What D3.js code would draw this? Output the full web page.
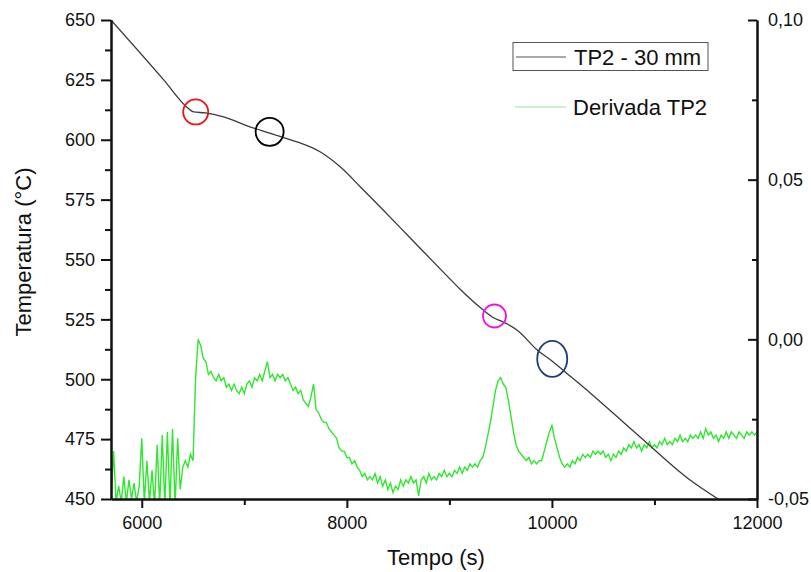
<!DOCTYPE html>
<meta charset="utf-8">
<script src="https://cdn.jsdelivr.net/npm/d3@7"></script>
<style>
body { margin: 0; background: #fff; }
text { font-family: "Liberation Sans", Arial, sans-serif; fill: #111; }
.axis path, .axis line { stroke: #111; stroke-width: 2px; }
.axis text { font-size: 18px; }
</style>
<body>
<script>

// temperature curve TP2 - 30 mm  [tempo (s), temperatura (°C)]
var tempTime = [5700, 6214, 6448, 6506, 6623, 6799, 7062, 7247, 7451, 7549, 7743, 7938, 8133,
  8328, 8523, 8717, 8912, 9107, 9331, 9419, 9526, 9662, 9857, 10013, 10130, 10373, 10860, 11347, 11620];
var tempValue = [650, 625.0, 613.3, 611.6, 611.2, 609.5, 605.3, 602.8, 599.9, 598.6, 594.9, 588.6, 580.3,
  571.8, 563.2, 554.6, 546.0, 537.5, 528.9, 526.0, 523.9, 520.5, 512.2, 507.2, 503.0, 494.3, 475.9, 457.9, 450.0];

// derivative, sampled every 25 s from 5700 s
var derivStart = 5700, derivStep = 25;
var derivValue = [
  -0.051, -0.035, -0.051, -0.046, -0.051, -0.043, -0.051, -0.044, -0.050, -0.045, -0.051, -0.046,
  -0.031, -0.051, -0.038, -0.051, -0.041, -0.052, -0.033, -0.052, -0.030, -0.052, -0.029, -0.052,
  -0.028, -0.052, -0.031, -0.047, -0.040, -0.038, -0.040, -0.036, -0.038, -0.012, 0.000, -0.002,
  -0.006, -0.007, -0.011, -0.010, -0.012, -0.013, -0.011, -0.013, -0.012, -0.015, -0.014, -0.016,
  -0.014, -0.016, -0.017, -0.015, -0.017, -0.014, -0.013, -0.015, -0.012, -0.013, -0.011, -0.013,
  -0.010, -0.007, -0.012, -0.011, -0.013, -0.011, -0.012, -0.011, -0.013, -0.012, -0.014, -0.016,
  -0.015, -0.017, -0.016, -0.019, -0.020, -0.021, -0.018, -0.014, -0.022, -0.023, -0.025, -0.026,
  -0.026, -0.028, -0.029, -0.030, -0.031, -0.034, -0.035, -0.035, -0.037, -0.037, -0.039, -0.038,
  -0.040, -0.041, -0.043, -0.042, -0.044, -0.043, -0.044, -0.042, -0.045, -0.043, -0.046, -0.044,
  -0.047, -0.045, -0.048, -0.046, -0.047, -0.044, -0.046, -0.044, -0.045, -0.043, -0.045, -0.044,
  -0.049, -0.044, -0.043, -0.045, -0.042, -0.044, -0.043, -0.044, -0.042, -0.043, -0.041, -0.043,
  -0.042, -0.043, -0.041, -0.042, -0.040, -0.042, -0.040, -0.041, -0.039, -0.040, -0.039, -0.040,
  -0.038, -0.037, -0.034, -0.030, -0.026, -0.021, -0.016, -0.013, -0.012, -0.014, -0.015, -0.019,
  -0.024, -0.029, -0.033, -0.035, -0.036, -0.037, -0.038, -0.037, -0.039, -0.038, -0.039, -0.038,
  -0.038, -0.035, -0.032, -0.029, -0.027, -0.031, -0.034, -0.037, -0.039, -0.040, -0.039, -0.040,
  -0.038, -0.039, -0.037, -0.038, -0.036, -0.037, -0.036, -0.037, -0.035, -0.036, -0.035, -0.036,
  -0.035, -0.037, -0.036, -0.038, -0.036, -0.037, -0.035, -0.036, -0.034, -0.035, -0.033, -0.034,
  -0.032, -0.034, -0.033, -0.035, -0.033, -0.034, -0.032, -0.034, -0.033, -0.034, -0.032, -0.033,
  -0.031, -0.033, -0.032, -0.033, -0.031, -0.032, -0.030, -0.032, -0.031, -0.032, -0.030, -0.031,
  -0.030, -0.031, -0.029, -0.031, -0.028, -0.030, -0.029, -0.031, -0.030, -0.032, -0.030, -0.031,
  -0.029, -0.031, -0.029, -0.030, -0.031, -0.029, -0.030, -0.031, -0.029, -0.030, -0.029, -0.030,
  -0.029
];

// highlighted points on the curve
var markTime = [6526, 7247, 9440, 10003];
var markTemp = [611.6, 603.3, 526.4, 508.5];
var markColor = ["#f01010", "#000000", "#ee11ee", "#1c3f78"];
var markRx = [12.5, 14, 11.5, 15];
var markRy = [12.5, 14, 11.5, 18];

var xTicks = [6000, 8000, 10000, 12000], xMinor = [7000, 9000, 11000];
var yTicks = [450, 475, 500, 525, 550, 575, 600, 625, 650];
var y2Ticks = [-0.05, 0.00, 0.05, 0.10], y2Minor = [-0.025, 0.025, 0.075];

var width = 811, height = 572;
var plotLeft = 111, plotRight = 757, plotTop = 20, plotBottom = 499;

var svg = d3.select("body").append("svg")
    .attr("width", width)
    .attr("height", height);

var x = d3.scaleLinear().domain([5700, 12000]).range([plotLeft, plotRight]);
var y = d3.scaleLinear().domain([450, 650]).range([plotBottom, plotTop]);
var y2 = d3.scaleLinear().domain([-0.05, 0.10]).range([plotBottom, plotTop]);

svg.append("clipPath").attr("id", "plot")
  .append("rect").attr("x", plotLeft).attr("y", plotTop)
  .attr("width", plotRight - plotLeft).attr("height", plotBottom - plotTop);

// derivative (green)
var deriv = derivValue.map(function(v, i) { return [derivStart + i * derivStep, v]; });
svg.append("path")
    .datum(deriv)
    .attr("clip-path", "url(#plot)")
    .attr("fill", "none")
    .attr("stroke", "#2ee82e")
    .attr("stroke-width", 1.4)
    .attr("d", d3.line().x(function(d) { return x(d[0]); }).y(function(d) { return y2(d[1]); }));

// temperature (black)
var temp = tempTime.map(function(t, i) { return [t, tempValue[i]]; });
svg.append("path")
    .datum(temp)
    .attr("clip-path", "url(#plot)")
    .attr("fill", "none")
    .attr("stroke", "#3a3a3a")
    .attr("stroke-width", 1.3)
    .attr("d", d3.line().curve(d3.curveMonotoneX)
      .x(function(d) { return x(d[0]); }).y(function(d) { return y(d[1]); }));

// circles
svg.selectAll(".mark")
    .data(markTime)
    .enter().append("ellipse")
    .attr("cx", function(d) { return x(d); })
    .attr("cy", function(d, i) { return y(markTemp[i]); })
    .attr("rx", function(d, i) { return markRx[i]; })
    .attr("ry", function(d, i) { return markRy[i]; })
    .attr("fill", "none")
    .attr("stroke", function(d, i) { return markColor[i]; })
    .attr("stroke-width", 1.8);

// axes
var fmt = function(d) { return d3.format(".2f")(d).replace(".", ",").replace("−", "-"); };

svg.append("g").attr("class", "axis")
    .attr("transform", "translate(" + plotLeft + ",0)")
    .call(d3.axisLeft(y).tickValues(yTicks).tickSize(10).tickSizeOuter(0).tickPadding(6));
svg.append("g").attr("class", "axis")
    .attr("transform", "translate(" + plotLeft + ",0)")
    .call(d3.axisLeft(y).tickValues(d3.range(462.5, 650, 25)).tickSize(6).tickSizeOuter(0).tickFormat(""));

svg.append("g").attr("class", "axis")
    .attr("transform", "translate(0," + plotBottom + ")")
    .call(d3.axisBottom(x).tickValues(xTicks).tickSize(9).tickSizeOuter(0).tickPadding(8).tickFormat(d3.format("d")));
svg.append("g").attr("class", "axis")
    .attr("transform", "translate(0," + plotBottom + ")")
    .call(d3.axisBottom(x).tickValues(xMinor).tickSize(6).tickSizeOuter(0).tickFormat(""));

svg.append("g").attr("class", "axis")
    .attr("transform", "translate(" + plotRight + ",0)")
    .call(d3.axisRight(y2).tickValues(y2Ticks).tickSize(-9).tickSizeOuter(0).tickPadding(11).tickFormat(fmt));
svg.append("g").attr("class", "axis")
    .attr("transform", "translate(" + plotRight + ",0)")
    .call(d3.axisRight(y2).tickValues(y2Minor).tickSize(-5).tickSizeOuter(0).tickFormat(""));

svg.selectAll(".axis text").attr("fill", "#111").style("font-size", "18px");

// axis titles
svg.append("text")
    .attr("x", 436).attr("y", 565)
    .attr("text-anchor", "middle")
    .style("font-size", "22px")
    .text("Tempo (s)");

svg.append("text")
    .attr("transform", "translate(31,252) rotate(-90)")
    .attr("text-anchor", "middle")
    .style("font-size", "22px")
    .text("Temperatura (°C)");

// legend
svg.append("rect")
    .attr("x", 513).attr("y", 42.5).attr("width", 195).attr("height", 28)
    .attr("fill", "none").attr("stroke", "#555").attr("stroke-width", 1);
svg.append("line")
    .attr("x1", 516).attr("x2", 566).attr("y1", 57).attr("y2", 57)
    .attr("stroke", "#555").attr("stroke-width", 1.2);
svg.append("text")
    .attr("x", 574).attr("y", 65)
    .style("font-size", "22px")
    .text("TP2 - 30 mm");
svg.append("line")
    .attr("x1", 515).attr("x2", 566).attr("y1", 107).attr("y2", 107)
    .attr("stroke", "#8fe29a").attr("stroke-width", 1.2);
svg.append("text")
    .attr("x", 573).attr("y", 115)
    .style("font-size", "22px")
    .text("Derivada TP2");

</script>
</body>
